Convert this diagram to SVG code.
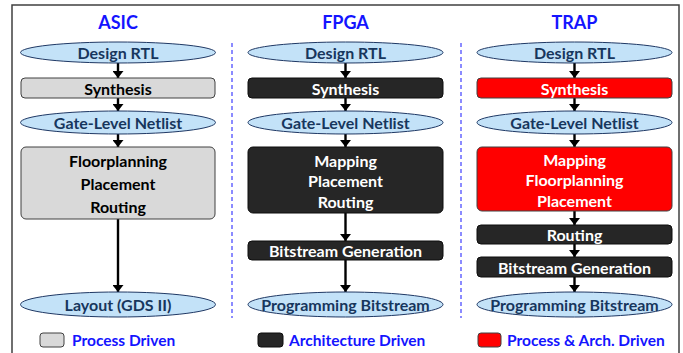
<svg xmlns="http://www.w3.org/2000/svg" width="683" height="353" viewBox="0 0 683 353">
<defs>
<style>
text{font-family:Lato,"Liberation Sans",sans-serif;font-weight:bold;text-anchor:middle;dominant-baseline:central}
.title{font-size:18px;fill:#1414ff}
.ell{fill:#c3e2f8;stroke:#1f3864;stroke-width:1}
.et{font-size:16px;fill:#17365d}
.gray{fill:#d9d9d9;stroke:#404040;stroke-width:1}
.dark{fill:#262626;stroke:#0d0d0d;stroke-width:1}
.red{fill:#ff0000;stroke:#404040;stroke-width:1}
.bt{font-size:16px;fill:#000}
.wt{font-size:16px;fill:#fff}
.leg{font-size:15.5px;fill:#1414ff;text-anchor:start}
.sep{stroke:#6666ff;stroke-width:1.5;stroke-dasharray:4,3}
.arr{stroke:#000;stroke-width:2.4;fill:none;marker-end:url(#ah)}
</style>
<marker id="ah" markerUnits="userSpaceOnUse" markerWidth="12" markerHeight="11" refX="7" refY="5.5" orient="auto">
<path d="M0,0 L7,5.5 L0,11 Z" fill="#000"/>
</marker>
</defs>
<rect width="683" height="353" fill="#fff"/>
<path d="M12,353 V5 H679 V353" fill="none" stroke="#404040" stroke-width="1.5"/>
<g id="separators">
<line class="sep" x1="232" y1="43" x2="232" y2="318"/>
<line class="sep" x1="461" y1="43" x2="461" y2="318"/>
</g>
<g id="titles">
<text class="title" x="118" y="22">ASIC</text>
<text class="title" x="345.5" y="22">FPGA</text>
<text class="title" x="574.5" y="22">TRAP</text>
</g>
<g id="connectors">
<line class="arr" x1="118" y1="63" x2="118" y2="78"/>
<line class="arr" x1="118" y1="98" x2="118" y2="111"/>
<line class="arr" x1="118" y1="134" x2="118" y2="147"/>
<line class="arr" x1="118" y1="219" x2="118" y2="292"/>
<line class="arr" x1="345.5" y1="63" x2="345.5" y2="78"/>
<line class="arr" x1="345.5" y1="98" x2="345.5" y2="111"/>
<line class="arr" x1="345.5" y1="134" x2="345.5" y2="147"/>
<line class="arr" x1="345.5" y1="213" x2="345.5" y2="241"/>
<line class="arr" x1="345.5" y1="260" x2="345.5" y2="292"/>
<line class="arr" x1="574.5" y1="63" x2="574.5" y2="78"/>
<line class="arr" x1="574.5" y1="98" x2="574.5" y2="111"/>
<line class="arr" x1="574.5" y1="134" x2="574.5" y2="147"/>
<line class="arr" x1="574.5" y1="211" x2="574.5" y2="225"/>
<line class="arr" x1="574.5" y1="244" x2="574.5" y2="257"/>
<line class="arr" x1="574.5" y1="277" x2="574.5" y2="292"/>
</g>
<g id="asic-rtl"><ellipse class="ell" cx="118" cy="52.5" rx="97.5" ry="10.5"/><text class="et" x="118" y="52.5">Design RTL</text></g>
<g id="asic-synth"><rect class="gray" x="21" y="78" width="194" height="20" rx="4"/><text class="bt" x="118" y="88">Synthesis</text></g>
<g id="asic-netlist"><ellipse class="ell" cx="118" cy="122.5" rx="97.5" ry="11.5"/><text class="et" x="118" y="122.5">Gate-Level Netlist</text></g>
<g id="asic-pnr"><rect class="gray" x="21" y="147" width="194" height="72" rx="5"/><text class="bt" x="118" y="160">Floorplanning</text><text class="bt" x="118" y="183">Placement</text><text class="bt" x="118" y="206">Routing</text></g>
<g id="asic-layout"><ellipse class="ell" cx="118" cy="304.5" rx="97.5" ry="12.5"/><text class="et" x="118" y="304.5">Layout (GDS II)</text></g>
<g id="fpga-rtl"><ellipse class="ell" cx="345.5" cy="52.5" rx="97.5" ry="10.5"/><text class="et" x="345.5" y="52.5">Design RTL</text></g>
<g id="fpga-synth"><rect class="dark" x="248" y="78" width="195" height="20" rx="4"/><text class="wt" x="345.5" y="88">Synthesis</text></g>
<g id="fpga-netlist"><ellipse class="ell" cx="345.5" cy="122.5" rx="97.5" ry="11.5"/><text class="et" x="345.5" y="122.5">Gate-Level Netlist</text></g>
<g id="fpga-pnr"><rect class="dark" x="248" y="147" width="195" height="66" rx="5"/><text class="wt" x="345.5" y="160">Mapping</text><text class="wt" x="345.5" y="180.5">Placement</text><text class="wt" x="345.5" y="201">Routing</text></g>
<g id="fpga-bitgen"><rect class="dark" x="248" y="241" width="195" height="19" rx="4"/><text class="wt" x="345.5" y="250.5">Bitstream Generation</text></g>
<g id="fpga-bitstream"><ellipse class="ell" cx="345.5" cy="304.5" rx="97.5" ry="12.5"/><text class="et" x="345.5" y="304.5">Programming Bitstream</text></g>
<g id="trap-rtl"><ellipse class="ell" cx="574.5" cy="52.5" rx="97.5" ry="10.5"/><text class="et" x="574.5" y="52.5">Design RTL</text></g>
<g id="trap-synth"><rect class="red" x="477" y="78" width="195" height="20" rx="4"/><text class="wt" x="574.5" y="88">Synthesis</text></g>
<g id="trap-netlist"><ellipse class="ell" cx="574.5" cy="122.5" rx="97.5" ry="11.5"/><text class="et" x="574.5" y="122.5">Gate-Level Netlist</text></g>
<g id="trap-mfp"><rect class="red" x="477" y="147" width="195" height="64" rx="5"/><text class="wt" x="574.5" y="159">Mapping</text><text class="wt" x="574.5" y="179.5">Floorplanning</text><text class="wt" x="574.5" y="200">Placement</text></g>
<g id="trap-routing"><rect class="dark" x="477" y="225" width="195" height="19" rx="4"/><text class="wt" x="574.5" y="234.5">Routing</text></g>
<g id="trap-bitgen"><rect class="dark" x="477" y="257" width="195" height="20" rx="4"/><text class="wt" x="574.5" y="267">Bitstream Generation</text></g>
<g id="trap-bitstream"><ellipse class="ell" cx="574.5" cy="304.5" rx="97.5" ry="12.5"/><text class="et" x="574.5" y="304.5">Programming Bitstream</text></g>
<g id="legend">
<rect class="gray" x="40" y="333" width="24" height="14" rx="3"/><text class="leg" x="72" y="340">Process Driven</text>
<rect class="dark" x="258" y="333" width="25" height="14" rx="3"/><text class="leg" x="289" y="340">Architecture Driven</text>
<rect class="red" x="478" y="333" width="23" height="14" rx="3"/><text class="leg" x="507" y="340">Process &amp; Arch. Driven</text>
</g>
</svg>
